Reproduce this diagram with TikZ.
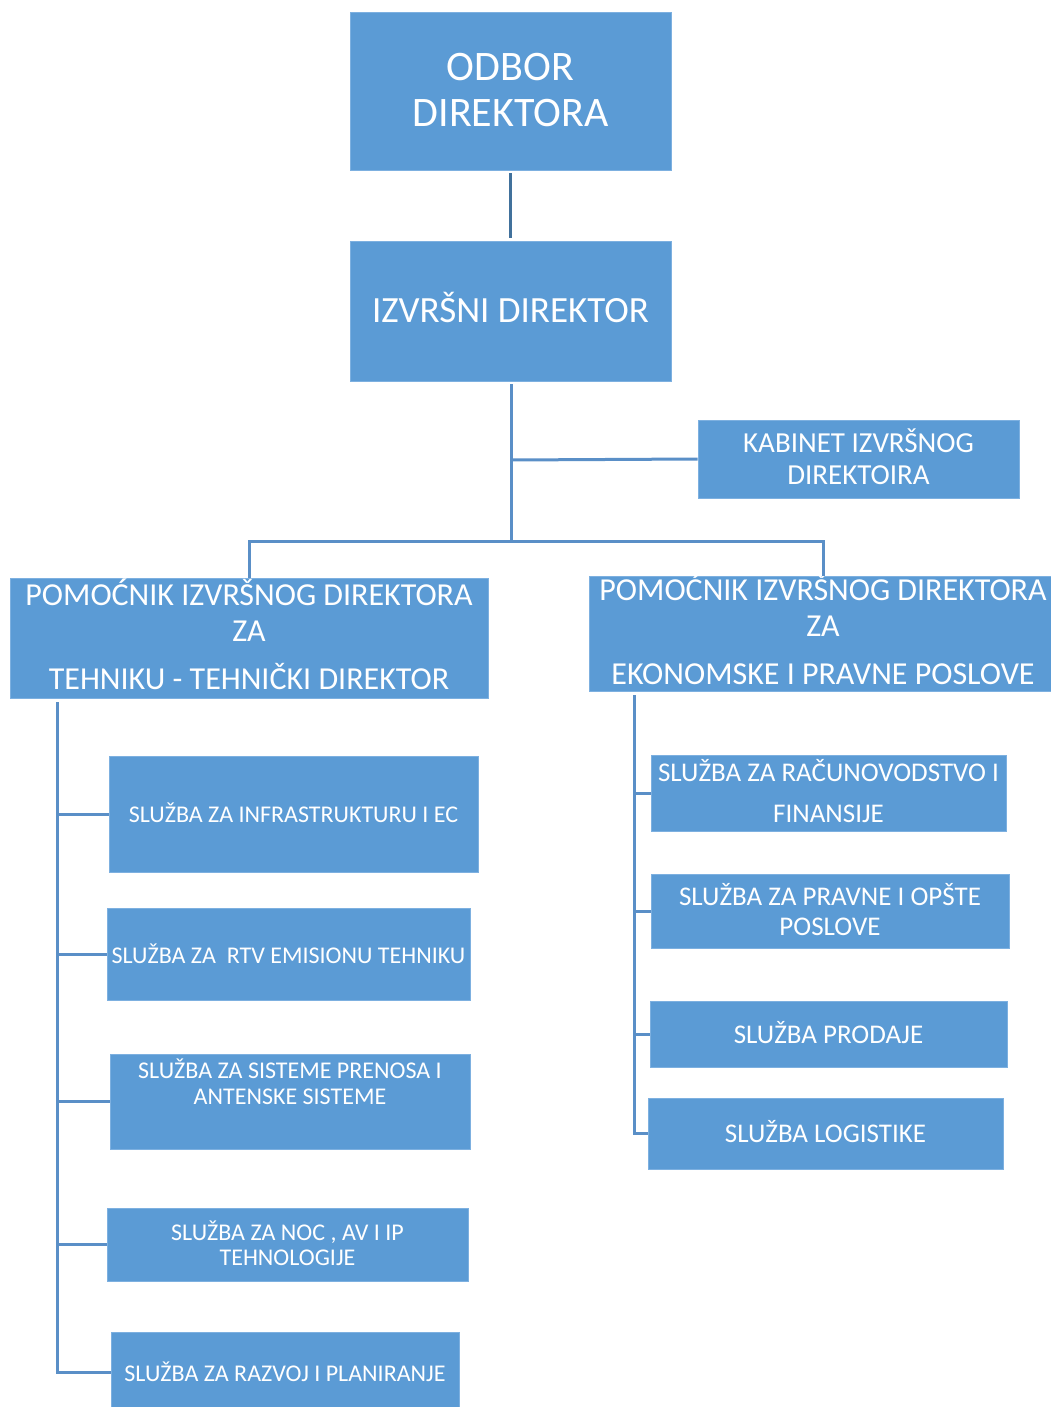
\documentclass[tikz,border=0pt]{standalone}
\usepackage{fontspec}
\setmainfont{Carlito}
\usetikzlibrary{calc}
\definecolor{boxfill}{HTML}{5B9BD5}
\definecolor{boxedge}{HTML}{7DB0E0}
\definecolor{linec}{HTML}{5A8FC7}
\definecolor{linetop}{HTML}{41719C}
\tikzset{
  orgbox/.style={fill=boxfill, draw=boxedge, line width=0.8pt, inner sep=0pt},
  orgtext/.style={text=white, align=center, inner sep=0pt},
  conn/.style={draw=linec, line width=3pt},
}
\newcommand{\fs}[2]{\fontsize{#1}{#2}\selectfont}
\begin{document}
\begin{tikzpicture}[x=1pt,y=-1pt]
\useasboundingbox (0,0) rectangle (1051,1407);
% boxes
\node[orgbox, minimum width=321, minimum height=158] (odbor) at (510.5,91) {};
\node[orgtext, font=\fs{42}{46}] (odbort) at (510.5,90) {ODBOR\\DIREKTORA};
\node[orgbox, minimum width=321, minimum height=140] (izv) at (510.5,311) {};
\node[orgtext, font=\fs{37}{40}] (izvt) at (510.5,307.5) {IZVRŠNI DIREKTOR};
\node[orgbox, minimum width=321, minimum height=78] (kab) at (858.5,459) {};
\node[orgtext, font=\fs{29}{32}] (kabt) at (858.5,457) {KABINET IZVRŠNOG\\DIREKTOIRA};
\node[orgbox, minimum width=478, minimum height=120] (pat) at (249,638) {};
\node[orgtext, font=\fs{32}{36}] (patt) at (249,634) {POMOĆNIK IZVRŠNOG DIREKTORA\\ZA\\[12pt]TEHNIKU - TEHNIČKI DIREKTOR};
\node[orgbox, minimum width=462, minimum height=115] (pae) at (820,633.5) {};
\node[orgtext, font=\fs{32}{36}] (paet) at (823,629.5) {POMOĆNIK IZVRŠNOG DIREKTORA\\ZA\\[12pt]EKONOMSKE I PRAVNE POSLOVE};
% left children
\node[orgbox, minimum width=369, minimum height=116] (inf) at (293.5,814) {};
\node[orgtext, font=\fs{24}{26}] (inft) at (293.5,812.5) {SLUŽBA ZA INFRASTRUKTURU I EC};
\node[orgbox, minimum width=363, minimum height=92] (rtv) at (288.5,954) {};
\node[orgtext, font=\fs{24}{26}] (rtvt) at (288.5,953.5) {SLUŽBA ZA\ \ RTV EMISIONU TEHNIKU};
\node[orgbox, minimum width=360, minimum height=95] (sis) at (290,1101.5) {};
\node[orgtext, font=\fs{24}{26}] (sist) at (290,1082) {SLUŽBA ZA SISTEME PRENOSA I\\ANTENSKE SISTEME};
\node[orgbox, minimum width=361, minimum height=73] (noc) at (287.5,1244.5) {};
\node[orgtext, font=\fs{24}{25}] (noct) at (287.5,1243.5) {SLUŽBA ZA NOC , AV I IP\\TEHNOLOGIJE};
\node[orgbox, minimum width=348, minimum height=80] (raz) at (285,1372) {};
\node[orgtext, font=\fs{24}{26}] (razt) at (285,1371.5) {SLUŽBA ZA RAZVOJ I PLANIRANJE};
% right children
\node[orgbox, minimum width=355, minimum height=76] (rac) at (828.5,793) {};
\node[orgtext, font=\fs{27}{41}] (ract) at (828.5,791.5) {SLUŽBA ZA RAČUNOVODSTVO I\\FINANSIJE};
\node[orgbox, minimum width=358, minimum height=74] (prav) at (830,911) {};
\node[orgtext, font=\fs{27}{30}] (pravt) at (830,910) {SLUŽBA ZA PRAVNE I OPŠTE\\POSLOVE};
\node[orgbox, minimum width=357, minimum height=66] (prod) at (828.5,1034) {};
\node[orgtext, font=\fs{27}{30}] (prodt) at (828.5,1033) {SLUŽBA PRODAJE};
\node[orgbox, minimum width=355, minimum height=71] (log) at (825.5,1133.5) {};
\node[orgtext, font=\fs{27}{30}] (logt) at (825.5,1132) {SLUŽBA LOGISTIKE};
% connectors
\coordinate (j1) at (511,460);
\coordinate (j2) at (511,541);
\draw[draw=linetop, line width=3pt] ($(odbor.south)+(0,3)$) -- ($(izv.north)+(0,-3)$);
\draw[conn] ($(izv.south)+(0.5,3)$) -- (j2);
\draw[conn] (j1) -- (kab.west);
\draw[conn] (j2) -| (pat.north);
\draw[conn] (j2) -| ($(pae.north)+(3,0)$);
% left bus
\coordinate (lb) at (57,702);
\draw[conn] (lb) |- (raz.west);
\foreach \n in {inf,rtv,sis,noc} \draw[conn] (lb |- \n.west) -- (\n.west);
% right bus
\coordinate (rb) at (634,695);
\draw[conn] (rb) |- (log.west);
\foreach \n in {rac,prav,prod} \draw[conn] (rb |- \n.west) -- (\n.west);
\end{tikzpicture}
\end{document}
